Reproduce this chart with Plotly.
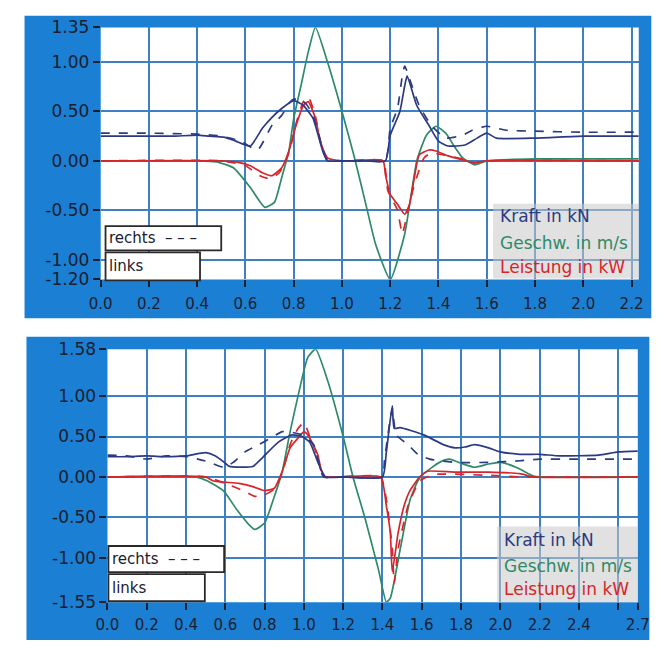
import plotly.graph_objects as go

# ---------------- data: top chart ----------------
top_kraft_links_x = [0, 0.1, 0.2, 0.3, 0.4, 0.45, 0.51, 0.56, 0.62, 0.67, 0.71, 0.75, 0.80, 0.84, 0.88, 0.92, 0.94, 1.0, 1.1, 1.18, 1.2, 1.24, 1.26, 1.27, 1.31, 1.36, 1.40, 1.44, 1.51, 1.56, 1.60, 1.64, 1.8, 2.0, 2.23]
top_kraft_links_y = [0.25, 0.25, 0.25, 0.25, 0.26, 0.25, 0.24, 0.20, 0.15, 0.33, 0.44, 0.53, 0.61, 0.56, 0.43, 0.10, 0.0, 0, 0, 0, 0.26, 0.5, 0.76, 0.86, 0.56, 0.36, 0.20, 0.15, 0.16, 0.23, 0.28, 0.23, 0.23, 0.25, 0.25]
top_kraft_rechts_x = [0, 0.2, 0.4, 0.5, 0.58, 0.65, 0.71, 0.75, 0.79, 0.82, 0.85, 0.88, 0.92, 0.94, 1.0, 1.1, 1.18, 1.2, 1.23, 1.25, 1.26, 1.28, 1.32, 1.37, 1.43, 1.50, 1.54, 1.60, 1.68, 1.8, 2.0, 2.23]
top_kraft_rechts_y = [0.28, 0.28, 0.27, 0.25, 0.2, 0.11, 0.36, 0.46, 0.61, 0.63, 0.58, 0.46, 0.12, 0, 0, 0, 0, 0.33, 0.53, 0.86, 0.96, 0.83, 0.56, 0.36, 0.23, 0.26, 0.31, 0.35, 0.31, 0.30, 0.29, 0.29]
top_geschw_x = [0, 0.4, 0.48, 0.55, 0.62, 0.68, 0.72, 0.75, 0.78, 0.80, 0.83, 0.86, 0.89, 0.94, 1.0, 1.05, 1.10, 1.14, 1.20, 1.26, 1.31, 1.35, 1.39, 1.43, 1.47, 1.50, 1.55, 1.60, 1.8, 2.0, 2.23]
top_geschw_y = [0, 0, -0.01, -0.07, -0.27, -0.47, -0.42, -0.17, 0.1, 0.43, 0.76, 1.1, 1.35, 1.0, 0.5, 0.05, -0.45, -0.85, -1.2, -0.74, 0, 0.26, 0.35, 0.28, 0.13, 0.03, -0.04, 0, 0.02, 0.02, 0.02]
top_leistung_links_x = [0, 0.5, 0.58, 0.62, 0.67, 0.71, 0.75, 0.78, 0.81, 0.84, 0.86, 0.89, 0.91, 0.94, 1.0, 1.17, 1.18, 1.2, 1.23, 1.26, 1.28, 1.30, 1.32, 1.36, 1.39, 1.44, 1.5, 1.55, 1.6, 2.23]
top_leistung_links_y = [0, 0, -0.02, -0.05, -0.12, -0.15, -0.07, 0.1, 0.36, 0.56, 0.6, 0.43, 0.2, 0.03, 0, 0, -0.14, -0.34, -0.44, -0.54, -0.44, -0.17, 0.06, 0.11, 0.1, 0.05, 0.01, -0.02, 0, 0]
top_leistung_rechts_x = [0, 0.5, 0.6, 0.66, 0.7, 0.74, 0.78, 0.81, 0.84, 0.86, 0.89, 0.91, 0.94, 1.0, 1.17, 1.19, 1.23, 1.25, 1.27, 1.30, 1.34, 1.37, 1.42, 1.5, 1.55, 1.6, 2.23]
top_leistung_rechts_y = [0, 0, -0.05, -0.15, -0.18, -0.12, 0.08, 0.38, 0.6, 0.65, 0.45, 0.2, 0.02, 0, 0, -0.3, -0.5, -0.74, -0.54, -0.24, 0.03, 0.08, 0.06, 0.02, -0.02, 0, 0]

# ---------------- data: bottom chart ----------------
bot_kraft_links_x = [0, 0.1, 0.2, 0.3, 0.4, 0.5, 0.55, 0.59, 0.62, 0.74, 0.79, 0.87, 0.94, 0.99, 1.03, 1.07, 1.11, 1.2, 1.4, 1.42, 1.45, 1.46, 1.49, 1.61, 1.71, 1.77, 1.82, 1.87, 1.94, 2.0, 2.1, 2.2, 2.3, 2.5, 2.6, 2.7]
bot_kraft_links_y = [0.25, 0.25, 0.26, 0.25, 0.26, 0.30, 0.26, 0.19, 0.13, 0.13, 0.24, 0.43, 0.52, 0.50, 0.43, 0.19, 0, 0, 0, 0.31, 0.88, 0.6, 0.61, 0.52, 0.40, 0.36, 0.37, 0.40, 0.36, 0.31, 0.28, 0.28, 0.26, 0.27, 0.31, 0.32]
bot_kraft_rechts_x = [0, 0.1, 0.2, 0.3, 0.4, 0.46, 0.51, 0.59, 0.64, 0.70, 0.77, 0.83, 0.89, 0.92, 0.99, 1.05, 1.10, 1.2, 1.4, 1.41, 1.44, 1.45, 1.47, 1.53, 1.58, 1.64, 1.77, 1.94, 2.1, 2.2, 2.4, 2.7]
bot_kraft_rechts_y = [0.27, 0.26, 0.22, 0.26, 0.25, 0.22, 0.19, 0.12, 0.18, 0.31, 0.40, 0.48, 0.56, 0.56, 0.52, 0.40, 0, 0, 0, 0.2, 0.72, 0.85, 0.52, 0.40, 0.28, 0.22, 0.18, 0.18, 0.2, 0.22, 0.22, 0.22]
bot_geschw_x = [0, 0.45, 0.51, 0.59, 0.66, 0.72, 0.75, 0.80, 0.85, 0.89, 0.93, 0.97, 1.02, 1.06, 1.12, 1.2, 1.25, 1.31, 1.38, 1.42, 1.44, 1.49, 1.54, 1.58, 1.61, 1.69, 1.74, 1.81, 1.87, 1.94, 2.0, 2.08, 2.17, 2.2, 2.7]
bot_geschw_y = [0, 0, -0.05, -0.17, -0.41, -0.59, -0.65, -0.57, -0.24, 0.07, 0.56, 1.0, 1.48, 1.58, 1.2, 0.5, 0.0, -0.5, -1.15, -1.55, -1.5, -0.9, -0.29, -0.05, 0.04, 0.18, 0.22, 0.16, 0.12, 0.16, 0.18, 0.12, 0.01, 0, 0]
bot_leistung_links_x = [0, 0.5, 0.54, 0.67, 0.74, 0.80, 0.85, 0.89, 0.93, 0.97, 1.0, 1.02, 1.07, 1.09, 1.11, 1.39, 1.42, 1.44, 1.45, 1.48, 1.51, 1.54, 1.59, 1.63, 1.77, 1.94, 2.1, 2.17, 2.7]
bot_leistung_links_y = [0, 0, -0.05, -0.08, -0.12, -0.17, -0.14, 0.07, 0.36, 0.48, 0.56, 0.52, 0.28, 0.07, 0, 0, -0.36, -0.69, -1.17, -0.69, -0.36, -0.17, 0, 0.07, 0.06, 0.06, 0.04, 0, 0]
bot_leistung_rechts_x = [0, 0.5, 0.6, 0.7, 0.75, 0.8, 0.85, 0.89, 0.93, 0.97, 1.0, 1.03, 1.07, 1.09, 1.11, 1.39, 1.42, 1.45, 1.46, 1.48, 1.53, 1.59, 1.66, 1.94, 2.1, 2.7]
bot_leistung_rechts_y = [0, 0, -0.08, -0.18, -0.24, -0.22, -0.15, 0.05, 0.4, 0.6, 0.67, 0.5, 0.25, 0.05, 0, 0, -0.28, -0.89, -1.32, -0.89, -0.36, -0.05, 0.03, 0.02, 0, 0]

# ---------------- tick labels ----------------
top_xticks = [0.0, 0.2, 0.4, 0.6, 0.8, 1.0, 1.2, 1.4, 1.6, 1.8, 2.0, 2.2]
top_xlabels = ["0.0", "0.2", "0.4", "0.6", "0.8", "1.0", "1.2", "1.4", "1.6", "1.8", "2.0", "2.2"]
top_yticks = [-1.2, -1.0, -0.5, 0.0, 0.5, 1.0, 1.35]
top_ylabels = ["-1.20", "-1.00", "-0.50", "0.00", "0.50", "1.00", "1.35"]
bot_xticks = [0.0, 0.2, 0.4, 0.6, 0.8, 1.0, 1.2, 1.4, 1.6, 1.8, 2.0, 2.2, 2.4, 2.6, 2.7]
bot_xlabels = ["0.0", "0.2", "0.4", "0.6", "0.8", "1.0", "1.2", "1.4", "1.6", "1.8", "2.0", "2.2", "2.4", "", "2.7"]
bot_yticks = [-1.55, -1.0, -0.5, 0.0, 0.5, 1.0, 1.58]
bot_ylabels = ["-1.55", "-1.00", "-0.50", "0.00", "0.50", "1.00", "1.58"]

legend_labels = ["Kraft in kN", "Geschw. in m/s", "Leistung in kW"]

NAVY = "#2b3a82"
GREEN = "#2f8a68"
RED = "#d6262b"
BLUE = "#1b7fd3"
GRID = "#3f7fc4"
TXT = "#1a2030"
W, H = 671, 650


def fx(p):
    return p / W


def fy(p):
    return 1 - p / H


fig = go.Figure()


def add(x, y, color, dash, ax):
    fig.add_trace(go.Scatter(x=x, y=y, mode="lines", xaxis="x" + ax, yaxis="y" + ax,
                             line=dict(color=color, width=1.7, dash=dash, shape="spline", smoothing=0.5),
                             showlegend=False, hoverinfo="skip"))


add(top_geschw_x, top_geschw_y, GREEN, "solid", "")
add(top_leistung_links_x, top_leistung_links_y, RED, "solid", "")
add(top_leistung_rechts_x, top_leistung_rechts_y, RED, "dash", "")
add(top_kraft_links_x, top_kraft_links_y, NAVY, "solid", "")
add(top_kraft_rechts_x, top_kraft_rechts_y, NAVY, "dash", "")

add(bot_geschw_x, bot_geschw_y, GREEN, "solid", "2")
add(bot_leistung_links_x, bot_leistung_links_y, RED, "solid", "2")
add(bot_leistung_rechts_x, bot_leistung_rechts_y, RED, "dash", "2")
add(bot_kraft_links_x, bot_kraft_links_y, NAVY, "solid", "2")
add(bot_kraft_rechts_x, bot_kraft_rechts_y, NAVY, "dash", "2")

# plot area geometry (pixels)
T = dict(l=92, r=650, t=18, b=278)
B = dict(l=99, r=649, t=350, b=611)

xfont = dict(family="DejaVu Sans", size=15, color=TXT)
yfont = dict(family="DejaVu Sans", size=17, color=TXT)

common = dict(showgrid=True, gridcolor=GRID, gridwidth=1.5, zeroline=False,
              ticks="outside", ticklen=7, tickcolor=TXT, tickwidth=1.5, showline=False)

fig.update_layout(
    width=W, height=H, margin=dict(l=0, r=0, t=0, b=0),
    paper_bgcolor="white", plot_bgcolor="white",
    xaxis=dict(domain=[fx(T["l"]), fx(T["r"])], range=[0, 2.23], anchor="y",
               tickvals=top_xticks, ticktext=top_xlabels, tickfont=xfont, ticklabelstandoff=4, **common),
    yaxis=dict(domain=[fy(T["b"]), fy(T["t"])], range=[-1.2, 1.35], anchor="x",
               tickvals=top_yticks, ticktext=top_ylabels, tickfont=yfont, **common),
    xaxis2=dict(domain=[fx(B["l"]), fx(B["r"])], range=[0, 2.7], anchor="y2",
                tickvals=bot_xticks, ticktext=bot_xlabels, tickfont=xfont, ticklabelstandoff=2, **common),
    yaxis2=dict(domain=[fy(B["b"]), fy(B["t"])], range=[-1.55, 1.58], anchor="x2",
                tickvals=bot_yticks, ticktext=bot_ylabels, tickfont=yfont, **common),
)

shapes = []
# blue frames
shapes.append(dict(type="rect", xref="paper", yref="paper", x0=fx(13), x1=fx(663), y0=fy(318), y1=fy(6),
                   fillcolor=BLUE, line=dict(width=0), layer="below"))
shapes.append(dict(type="rect", xref="paper", yref="paper", x0=fx(15), x1=fx(661), y0=fy(650), y1=fy(337),
                   fillcolor=BLUE, line=dict(width=0), layer="below"))
# white plot areas
for P in (T, B):
    shapes.append(dict(type="rect", xref="paper", yref="paper", x0=fx(P["l"]), x1=fx(P["r"]),
                       y0=fy(P["b"]), y1=fy(P["t"]), fillcolor="white", line=dict(width=0), layer="below"))

annotations = []


def legend_boxes(x0, y_r0, y_r1, y_l0, y_l1, xr1, xl1):
    shapes.append(dict(type="rect", xref="paper", yref="paper", x0=fx(x0), x1=fx(xr1), y0=fy(y_r1), y1=fy(y_r0),
                       fillcolor="white", line=dict(color="#2a2a2a", width=1.8)))
    shapes.append(dict(type="rect", xref="paper", yref="paper", x0=fx(x0), x1=fx(xl1), y0=fy(y_l1), y1=fy(y_l0),
                       fillcolor="white", line=dict(color="#2a2a2a", width=1.8)))
    annotations.append(dict(xref="paper", yref="paper", x=fx(x0 + 2), y=fy((y_r0 + y_r1) / 2), xanchor="left",
                            yanchor="middle", showarrow=False, text="rechts  \u2013 \u2013 \u2013",
                            font=dict(family="DejaVu Sans", size=15, color=TXT)))
    annotations.append(dict(xref="paper", yref="paper", x=fx(x0 + 2), y=fy((y_l0 + y_l1) / 2), xanchor="left",
                            yanchor="middle", showarrow=False, text="links",
                            font=dict(family="DejaVu Sans", size=15, color=TXT)))


legend_boxes(97, 223, 248, 250, 279, 217, 195)
legend_boxes(100, 553, 580, 582, 610, 220, 200)


def series_legend(x0, x1, y0, y1, ys):
    shapes.append(dict(type="rect", xref="paper", yref="paper", x0=fx(x0), x1=fx(x1), y0=fy(y1), y1=fy(y0),
                       fillcolor="rgba(200,200,200,0.55)", line=dict(width=0)))
    for lab, yy, col in zip(legend_labels, ys, [NAVY, GREEN, RED]):
        annotations.append(dict(xref="paper", yref="paper", x=fx(x0 + 5), y=fy(yy), xanchor="left",
                                yanchor="middle", showarrow=False, text=lab,
                                font=dict(family="DejaVu Sans", size=17, color=col)))


series_legend(499, 650, 200, 277, [213, 240, 265])
series_legend(503, 649, 533, 611, [547, 574, 597])

fig.update_layout(shapes=shapes, annotations=annotations)
fig.write_html("out.html", config={"displayModeBar": False},
               post_script="document.body.style.margin='0px';document.body.style.overflow='hidden';")
